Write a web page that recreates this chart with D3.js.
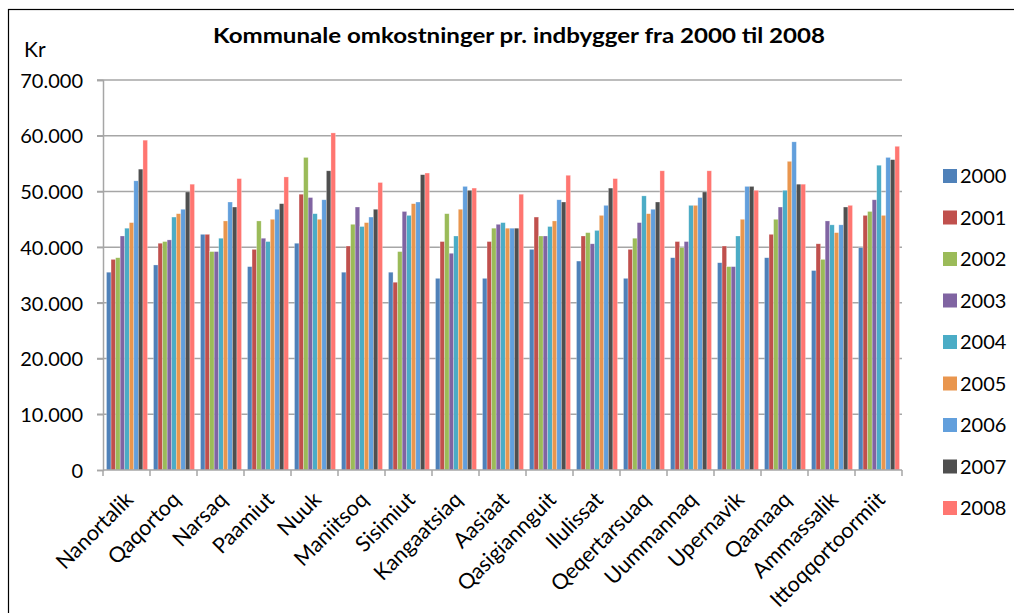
<!DOCTYPE html>
<html lang="da">
<head>
  <meta charset="UTF-8">
  <title>Kommunale omkostninger pr. indbygger</title>
  <script src="https://d3js.org/d3.v7.min.js"></script>
  <style>
    body { margin: 0; background: #fff; }
    svg text { font-family: Lato, "Open Sans", sans-serif; fill: #000; }
    .grid line { stroke: #a6a6a6; stroke-width: 1.5; }
    .axis path, .axis line { stroke: #a6a6a6; stroke-width: 1.5; }
  </style>
</head>
<body>
  <svg width="1014" height="613"></svg>
  <script>
    // municipalities (x categories)
    const kommuner = ["Nanortalik", "Qaqortoq", "Narsaq", "Paamiut", "Nuuk", "Maniitsoq",
      "Sisimiut", "Kangaatsiaq", "Aasiaat", "Qasigiannguit", "Ilulissat", "Qeqertarsuaq",
      "Uummannaq", "Upernavik", "Qaanaaq", "Ammassalik", "Ittoqqortoormiit"];

    const years = ["2000", "2001", "2002", "2003", "2004", "2005", "2006", "2007", "2008"];

    // kr per inhabitant, one array per year, in kommune order
    const v2000 = [35500, 36800, 42300, 36500, 40700, 35500, 35500, 34400, 34400, 39600, 37500, 34400, 38100, 37200, 38100, 35800, 39900];
    const v2001 = [37800, 40700, 42300, 39600, 49500, 40200, 33700, 41000, 41000, 45400, 42000, 39600, 41000, 40200, 42300, 40600, 45700];
    const v2002 = [38100, 41000, 39200, 44700, 56100, 44100, 39200, 46000, 43400, 42000, 42600, 41600, 39900, 36500, 45000, 37800, 46400];
    const v2003 = [42000, 41300, 39200, 41600, 48900, 47200, 46400, 38900, 44100, 42000, 40600, 44400, 41000, 36500, 47200, 44700, 48500];
    const v2004 = [43400, 45400, 41600, 41000, 46000, 43700, 45700, 42000, 44400, 43700, 43000, 49200, 47500, 42000, 50200, 44000, 54700];
    const v2005 = [44400, 46000, 44700, 45000, 45000, 44400, 47800, 46800, 43400, 44700, 45700, 46000, 47500, 45000, 55400, 42600, 45700];
    const v2006 = [51900, 46800, 48100, 46800, 48500, 45400, 48100, 50900, 43400, 48500, 47500, 46800, 48900, 50900, 58900, 44000, 56100];
    const v2007 = [54000, 49900, 47200, 47800, 53700, 46800, 53000, 50200, 43400, 48100, 50600, 48100, 49900, 50900, 51300, 47200, 55700];
    const v2008 = [59200, 51300, 52300, 52600, 60500, 51600, 53300, 50600, 49500, 52900, 52300, 53700, 53700, 50200, 51300, 47500, 58100];
    const series = [v2000, v2001, v2002, v2003, v2004, v2005, v2006, v2007, v2008];

    const colors = ["#4f81b9", "#c0504d", "#9bbb59", "#8064a2", "#4bacc6", "#e9964e", "#629fdc", "#4f4f4f", "#ff7671"];

    const yTicks = [0, 10000, 20000, 30000, 40000, 50000, 60000, 70000];

    const svg = d3.select("svg");
    const margin = { top: 80, left: 103, right: 112, bottom: 143 };
    const W = 1014, H = 613;
    const width = W - margin.left - margin.right;
    const height = H - margin.top - margin.bottom;

    // outer chart frame (runs off the right and bottom edge like the screenshot)
    svg.append("rect")
      .attr("x", 8.5).attr("y", 9.5)
      .attr("width", 1020).attr("height", 620)
      .attr("fill", "none").attr("stroke", "#000").attr("stroke-width", 1.2);

    const g = svg.append("g").attr("transform", `translate(${margin.left},${margin.top})`);

    const x0 = d3.scaleBand().domain(kommuner).range([0, width]).paddingInner(0).paddingOuter(0);
    const x1 = d3.scaleBand().domain(years).range([3.5, x0.bandwidth() - 2.5]);
    const y = d3.scaleLinear().domain([0, 70000]).range([height, 0]);

    const fmt = d => d === 0 ? "0" : d3.format(",")(d).replace(/,/g, ".");

    // horizontal grid lines
    g.append("g").attr("class", "grid")
      .selectAll("line").data(yTicks.filter(d => d > 0)).join("line")
      .attr("x1", -6).attr("x2", width)
      .attr("y1", d => y(d)).attr("y2", d => y(d));

    // y axis
    const yAxis = g.append("g").attr("class", "axis")
      .call(d3.axisLeft(y).tickValues(yTicks).tickFormat(fmt).tickSize(6).tickPadding(14));
    yAxis.selectAll("text").style("font-size", "20px").attr("dy", "0.36em");

    // bars
    const groups = g.selectAll("g.kommune")
      .data(kommuner).join("g").attr("class", "kommune")
      .attr("transform", d => `translate(${x0(d)},0)`);

    groups.selectAll("rect")
      .data((k, i) => years.map((yr, j) => ({ yr, j, v: series[j][i] })))
      .join("rect")
      .attr("x", d => x1(d.yr))
      .attr("width", x1.bandwidth())
      .attr("y", d => y(d.v))
      .attr("height", d => height - y(d.v))
      .attr("fill", d => colors[d.j])
      .attr("stroke", "#fff").attr("stroke-opacity", 0.45).attr("stroke-width", 0.6);

    // x axis with ticks at the category boundaries
    const xAxis = g.append("g").attr("class", "axis")
      .attr("transform", `translate(0,${height})`);
    xAxis.append("line").attr("x1", 0).attr("x2", width).attr("y1", 0).attr("y2", 0);
    xAxis.selectAll("line.tick")
      .data(d3.range(kommuner.length + 1)).join("line").attr("class", "tick")
      .attr("x1", i => i * x0.bandwidth()).attr("x2", i => i * x0.bandwidth())
      .attr("y1", 0).attr("y2", 6);
    xAxis.selectAll("text")
      .data(kommuner).join("text")
      .attr("transform", d => `translate(${x0(d) + x0.bandwidth() / 2 + 8},${31}) rotate(-45)`)
      .attr("text-anchor", "end")
      .style("font-size", "21.5px")
      .text(d => d);

    // y axis unit
    svg.append("text").attr("x", 24).attr("y", 57).style("font-size", "21px").text("Kr");

    // title
    svg.append("text")
      .attr("x", 519).attr("y", 43).attr("text-anchor", "middle")
      .attr("textLength", 612).attr("lengthAdjust", "spacingAndGlyphs")
      .style("font-size", "21.5px").style("font-weight", "bold")
      .text("Kommunale omkostninger pr. indbygger fra 2000 til 2008");

    // legend
    const legend = svg.append("g").attr("transform", "translate(943,176)");
    const item = legend.selectAll("g").data(years).join("g")
      .attr("transform", (d, i) => `translate(0,${i * 41.5})`);
    item.append("rect").attr("x", 0).attr("y", -7).attr("width", 14).attr("height", 14)
      .attr("fill", (d, i) => colors[i]);
    item.append("text").attr("x", 17).attr("y", 0).attr("dy", "0.36em")
      .style("font-size", "20px").text(d => d);
  </script>
</body>
</html>
